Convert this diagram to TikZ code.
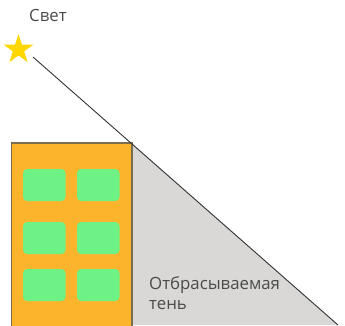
\documentclass[tikz,border=0pt]{standalone}
\usepackage{fontspec}
\setmainfont{Open Sans}
\usetikzlibrary{shapes.geometric}
\definecolor{txt}{HTML}{4A4A4A}
\definecolor{bldg}{HTML}{FBB42C}
\definecolor{bldgline}{HTML}{7D6C4C}
\definecolor{win}{HTML}{6FF285}
\definecolor{shadowgray}{HTML}{D9D8D7}
\definecolor{ray}{HTML}{333333}
\definecolor{gold}{HTML}{FFD700}
\tikzset{
  winbox/.style={fill=win, rounded corners=4pt},
  lbl/.style={text=txt, font=\fontsize{16.8}{20}\selectfont, inner sep=0pt, align=left},
}
\begin{document}
\begin{tikzpicture}[x=1pt,y=-1pt]
\useasboundingbox (0,0) rectangle (345,325);
% shadow
\coordinate (top) at (132,143.5);
\coordinate (se) at (338,325);
\fill[fill=shadowgray] (top) -- (se) -- (132,325) -- cycle;
% building
\draw[fill=bldg, draw=bldgline, line width=1.5pt] (11.5,325.5) -- (11.5,143) -- (132,143) -- (132,325.5);
% windows
\foreach \x in {23,77} {
  \foreach \y in {169,222,269} {
    \fill[winbox] (\x,\y) rectangle ++(42.5,32);
  }
}
% star
\node[star, star points=5, star point ratio=2.6, fill=gold, minimum size=31pt, inner sep=0pt] (sun) at (18.5,49.5) {};
\node[lbl, anchor=base west] (light) at (29,21) {Свет};
% ray
\coordinate (ls) at (33,57);
\draw[ray, line width=0.9pt] (ls) -- (se);
% label
\node[lbl, anchor=north west] (cast) at (149,276) {Отбрасываемая\\тень};
\end{tikzpicture}
\end{document}
